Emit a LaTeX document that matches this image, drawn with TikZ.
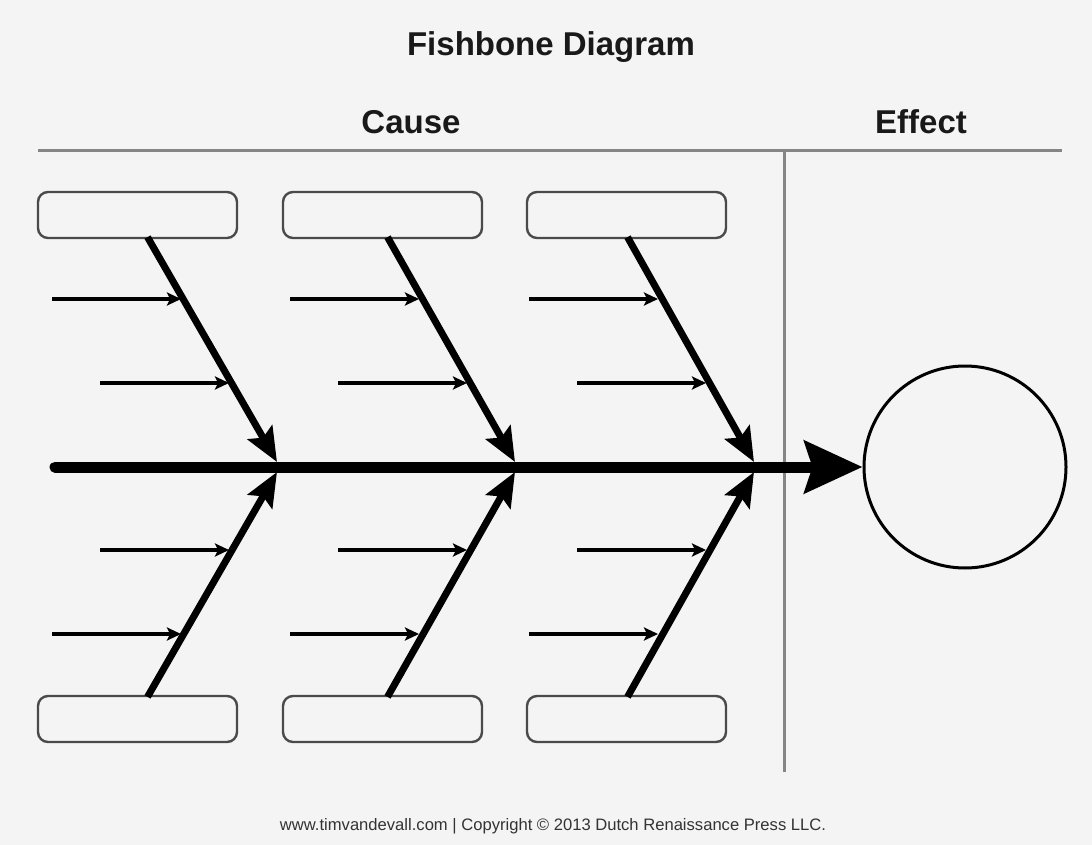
\documentclass[tikz,border=0pt]{standalone}
\usepackage{fontspec}
\setmainfont{Liberation Sans}
\usetikzlibrary{arrows.meta}
\definecolor{bg}{HTML}{F4F4F4}
\definecolor{rule}{HTML}{858585}
\definecolor{boxline}{HTML}{4A4A4A}
\tikzset{
  catbox/.style={draw=boxline, line width=2.4pt, rounded corners=10pt, fill=bg, minimum width=199pt, minimum height=46pt, inner sep=0pt},
  bone/.style={line width=7pt, -{Stealth[length=34pt,width=28pt,inset=6pt]}, shorten <=-1pt},
  twig/.style={line width=3.2pt, -{Stealth[length=14pt,width=13pt,inset=3pt]}},
  spine/.style={line width=11pt, line cap=round, -{Stealth[length=58pt,width=52pt,inset=8pt,line cap=butt]}},
  divider/.style={draw=rule, line width=3pt},
  head/.style={font=\bfseries\fontsize{33}{38}\selectfont, text=black!90},
}
\begin{document}
\begin{tikzpicture}[x=1pt,y=-1pt]
\fill[bg] (0,0) rectangle (1092,845);
\useasboundingbox (0,0) rectangle (1092,845);
% headings
\node[head] (title) at (551,47) {Fishbone Diagram};
\node[head] (cause) at (411,122) {Cause};
\node[head] (effect) at (921,122) {Effect};
% dividers
\coordinate (hl) at (38,151);
\coordinate (hr) at (1062,151);
\coordinate (vt) at (784,151);
\coordinate (vb) at (784,772);
\draw[divider] (hl) -- (hr);
\draw[divider] (vt) -- (vb);
% boxes
\node[catbox] (t1) at (137.5,215) {};
\node[catbox] (t2) at (382.5,215) {};
\node[catbox] (t3) at (626.5,215) {};
\node[catbox] (b1) at (137.5,719) {};
\node[catbox] (b2) at (382.5,719) {};
\node[catbox] (b3) at (626.5,719) {};
% effect circle
\node[draw, line width=3pt, circle, minimum size=202pt, inner sep=0pt] (eff) at (965,467) {};
% spine
\coordinate (s0) at (55,467);
\draw[spine] (s0) -- (eff.west);
% bone tips on spine
\coordinate (j1t) at (277,462);
\coordinate (j2t) at (515,462);
\coordinate (j3t) at (754,462);
\coordinate (j1b) at (277,472);
\coordinate (j2b) at (515,472);
\coordinate (j3b) at (754,472);
\coordinate (o1t) at (148,238);
\coordinate (o2t) at (388,238);
\coordinate (o3t) at (628,238);
\coordinate (o1b) at (148,696);
\coordinate (o2b) at (388,696);
\coordinate (o3b) at (628,696);
\draw[bone] (o1t) -- (j1t);
\draw[bone] (o2t) -- (j2t);
\draw[bone] (o3t) -- (j3t);
\draw[bone] (o1b) -- (j1b);
\draw[bone] (o2b) -- (j2b);
\draw[bone] (o3b) -- (j3b);
% twigs
\foreach \g/\dx in {1/0,2/238,3/477}{
  \coordinate (a\g) at (52+\dx,299);
  \coordinate (ae\g) at (181+\dx,299);
  \coordinate (c\g) at (100+\dx,383);
  \coordinate (ce\g) at (229+\dx,383);
  \coordinate (d\g) at (100+\dx,550);
  \coordinate (de\g) at (229+\dx,550);
  \coordinate (f\g) at (52+\dx,634);
  \coordinate (fe\g) at (181+\dx,634);
  \draw[twig] (a\g) -- (ae\g);
  \draw[twig] (c\g) -- (ce\g);
  \draw[twig] (d\g) -- (de\g);
  \draw[twig] (f\g) -- (fe\g);
}
% footer
\node[font=\fontsize{16.6}{19}\selectfont, text=black!80] (foot) at (553,826) {www.timvandevall.com | Copyright © 2013 Dutch Renaissance Press LLC.};
\end{tikzpicture}
\end{document}
